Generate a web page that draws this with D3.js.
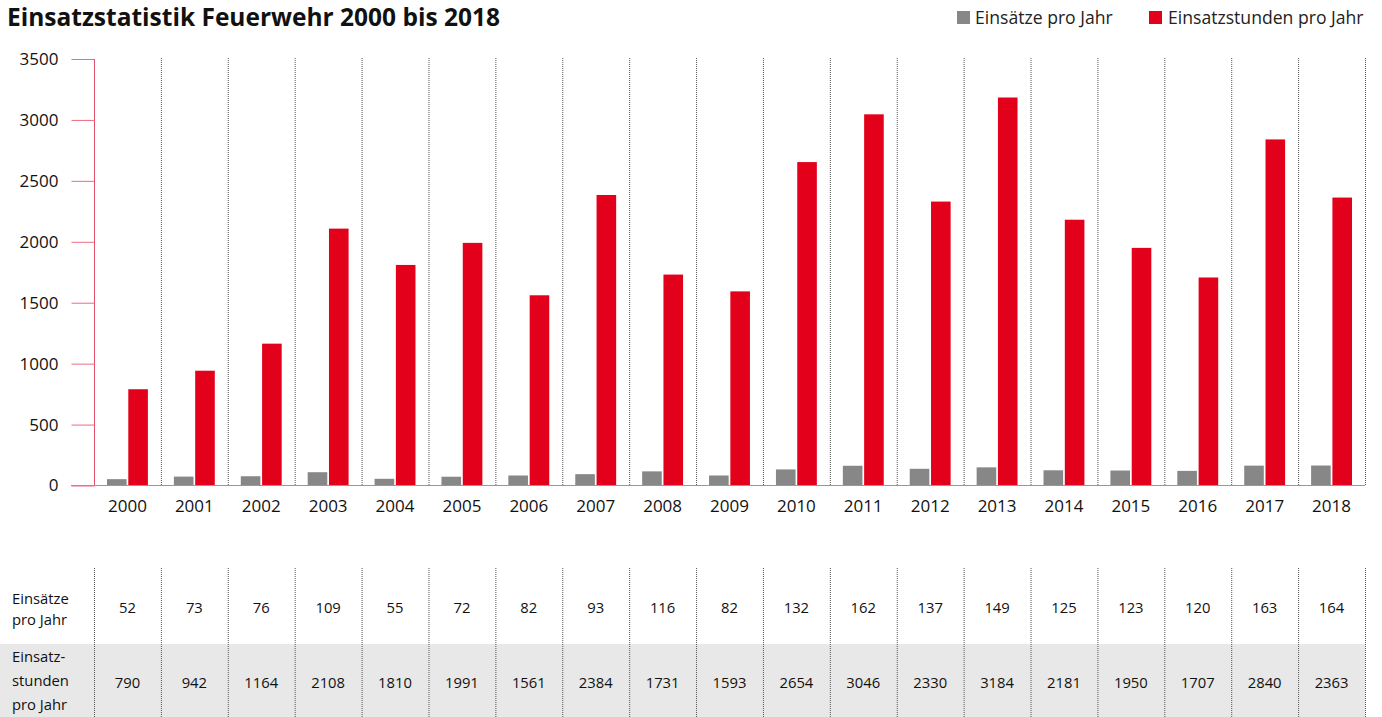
<!DOCTYPE html>
<html>
<head>
<meta charset="utf-8">
<script src="https://cdn.jsdelivr.net/npm/d3@7"></script>
<style>
  body { margin: 0; background: #fff; }
  svg { display: block; font-family: "Open Sans", sans-serif; }
</style>
</head>
<body>
<div id="grafico"></div>
<script>
const jahre = ["2000","2001","2002","2003","2004","2005","2006","2007","2008","2009",
  "2010","2011","2012","2013","2014","2015","2016","2017","2018"];
const einsaetze = [52, 73, 76, 109, 55, 72, 82, 93, 116, 82, 132, 162, 137, 149, 125, 123, 120, 163, 164];
const stunden = [790, 942, 1164, 2108, 1810, 1991, 1561, 2384, 1731, 1593, 2654, 3046, 2330, 3184, 2181, 1950, 1707, 2840, 2363];
const yTicks = [0, 500, 1000, 1500, 2000, 2500, 3000, 3500];
const serien = ["Einsätze pro Jahr", "Einsatzstunden pro Jahr"];

const width = 1382, height = 717;
const grau = "#878787", rot = "#e2001a";
const schrift = "'Open Sans', sans-serif";

const svg = d3.select("#grafico").append("svg")
  .attr("width", width).attr("height", height);

// Titel
svg.append("text").attr("x", 7).attr("y", 26)
  .attr("font-size", 24.5).attr("font-weight", "bold").attr("fill", "#111")
  .text("Einsatzstatistik Feuerwehr 2000 bis 2018");

// Skalen
const x0 = d3.scaleBand().domain(jahre).range([94, 1365]);
const x1 = d3.scaleBand().domain(serien).range([13, x0.bandwidth() - 13]).paddingInner(0.08);
const y = d3.scaleLinear().domain([0, 3500]).range([485.5, 59]);
const farbe = d3.scaleOrdinal().domain(serien).range([grau, rot]);

// gepunktete Trennlinien im Diagramm
svg.append("g").selectAll("line")
  .data(jahre.slice(1).concat(["end"]))
  .join("line")
  .attr("x1", d => d === "end" ? x0.range()[1] : x0(d))
  .attr("x2", d => d === "end" ? x0.range()[1] : x0(d))
  .attr("y1", y(3500) - 1).attr("y2", y(0))
  .attr("stroke", "#555").attr("stroke-width", 1)
  .attr("stroke-dasharray", "1,1")
  .attr("transform", "translate(0.5,0)");

// Balken
const daten = jahre.map((j, i) => ({ jahr: j, werte: [einsaetze[i], stunden[i]] }));
svg.append("g").selectAll("g")
  .data(daten)
  .join("g")
  .attr("transform", d => `translate(${x0(d.jahr)},0)`)
  .selectAll("rect")
  .data(d => serien.map((s, k) => ({ serie: s, wert: d.werte[k] })))
  .join("rect")
  .attr("x", d => x1(d.serie))
  .attr("y", d => y(d.wert))
  .attr("width", x1.bandwidth())
  .attr("height", d => y(0) - y(d.wert))
  .attr("fill", d => farbe(d.serie));

// Y-Achse
const yAchse = svg.append("g").attr("transform", "translate(94.5,0)")
  .call(d3.axisLeft(y).tickValues(yTicks).tickFormat(d3.format("d")).tickSize(23).tickPadding(13));
yAchse.select(".domain").attr("stroke", "#e4506c").attr("d", `M0,${y(3500)}V${y(0)}`);
yAchse.selectAll(".tick line").attr("stroke", "#ec6b82");
yAchse.selectAll(".tick text").attr("font-size", 17).attr("fill", "#111")
  .attr("font-family", schrift);

// X-Achse
const xAchse = svg.append("g").attr("transform", `translate(0,${y(0)})`)
  .call(d3.axisBottom(x0).tickSize(0).tickPadding(14));
xAchse.select(".domain").attr("stroke", "#ee7088").attr("d", `M71,0H${x0.range()[1]}`);
xAchse.selectAll(".tick text").attr("font-size", 17).attr("fill", "#111")
  .attr("font-family", schrift);

// Legende
const legende = svg.append("g");
[[957, 975], [1149, 1168]].forEach(([xr, xt], i) => {
  legende.append("rect").attr("x", xr).attr("y", 11).attr("width", 13).attr("height", 13)
    .attr("fill", farbe(serien[i]));
  legende.append("text").attr("x", xt).attr("y", 24).attr("font-size", 17.6).attr("fill", "#222")
    .text(serien[i]);
});

// Tabelle
const tabelle = svg.append("g");
tabelle.append("rect").attr("x", 0).attr("y", 644)
  .attr("width", x0.range()[1]).attr("height", height - 644).attr("fill", "#e8e8e8");

tabelle.selectAll("line.sep")
  .data(jahre.concat(["end"]))
  .join("line")
  .attr("class", "sep")
  .attr("x1", d => d === "end" ? x0.range()[1] : x0(d))
  .attr("x2", d => d === "end" ? x0.range()[1] : x0(d))
  .attr("y1", 568).attr("y2", height)
  .attr("stroke", "#555").attr("stroke-dasharray", "1,1")
  .attr("transform", "translate(0.5,0)");

const zeilen = [
  { label: ["Einsätze", "pro Jahr"], werte: einsaetze, yText: 613, yLabel: 604, dy: 21 },
  { label: ["Einsatz-", "stunden", "pro Jahr"], werte: stunden, yText: 688, yLabel: 662, dy: 24 }
];
zeilen.forEach(z => {
  const t = tabelle.append("text").attr("x", 12).attr("y", z.yLabel)
    .attr("font-size", 14.8).attr("fill", "#111");
  z.label.forEach((l, i) => t.append("tspan").attr("x", 12).attr("dy", i === 0 ? 0 : z.dy).text(l));
  tabelle.append("g").selectAll("text")
    .data(z.werte)
    .join("text")
    .attr("x", (d, i) => x0(jahre[i]) + x0.bandwidth() / 2)
    .attr("y", z.yText)
    .attr("text-anchor", "middle")
    .attr("font-size", 14.8).attr("fill", "#111")
    .text(d => d);
});
</script>
</body>
</html>
